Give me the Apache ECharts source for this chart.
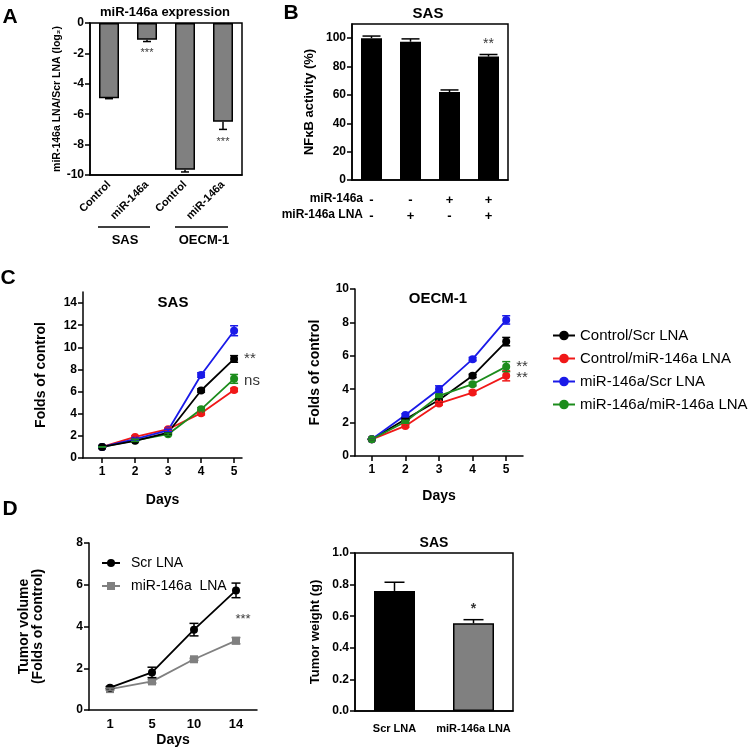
<!DOCTYPE html>
<html>
<head>
<meta charset="utf-8">
<script src="https://cdn.jsdelivr.net/npm/echarts@6/dist/echarts.min.js"></script>
<style>
  html, body { margin: 0; padding: 0; background: #fff; }
  #main { width: 755px; height: 753px; }
</style>
</head>
<body>
<div id="main"></div>
<script>
// ---- data ----
// panel A
var catsA = ['Control', 'miR-146a', 'Control', 'miR-146a'];
var valsA = [-4.95, -1.1, -9.65, -6.5];
var errA = [0.03, 0.12, 0.15, 0.5];
var starsA = [[1, -2, '***'], [3, -7.8, '***']];
var ticksA = [-10, -8, -6, -4, -2, 0];

// panel B
var rowMir = ['-', '-', '+', '+'];
var rowLna = ['-', '+', '-', '+'];
var valsB = [100, 97.5, 62, 87];
var errB = [1.5, 2, 1.5, 1.5];
var starsB = [[3, 95.5, '**']];
var ticksB = [0, 20, 40, 60, 80, 100];

// panel C
var days = [1, 2, 3, 4, 5];
var seriesNames = ['Control/Scr LNA', 'Control/miR-146a LNA', 'miR-146a/Scr LNA', 'miR-146a/miR-146a LNA'];
var colors = ['#000000', '#f01818', '#1a1ae8', '#1c8c1c'];
var sasCtrlScr = [1.0, 1.55, 2.3, 6.1, 8.95];
var sasCtrlLna = [1.0, 1.9, 2.6, 4.05, 6.15];
var sasMirScr = [1.0, 1.7, 2.5, 7.5, 11.5];
var sasMirLna = [1.0, 1.6, 2.15, 4.4, 7.15];
var sasErrCtrlScr = [0, 0.05, 0.1, 0.15, 0.3];
var sasErrCtrlLna = [0, 0.1, 0.1, 0.15, 0.15];
var sasErrMirScr = [0, 0.1, 0.1, 0.2, 0.45];
var sasErrMirLna = [0, 0.1, 0.1, 0.15, 0.4];
var oecmCtrlScr = [1.0, 2.2, 3.35, 4.8, 6.85];
var oecmCtrlLna = [1.0, 1.8, 3.15, 3.8, 4.8];
var oecmMirScr = [1.0, 2.45, 4.0, 5.8, 8.15];
var oecmMirLna = [1.0, 2.05, 3.6, 4.3, 5.35];
var oecmErrCtrlScr = [0, 0.05, 0.1, 0.1, 0.25];
var oecmErrCtrlLna = [0, 0.08, 0.1, 0.1, 0.3];
var oecmErrMirScr = [0, 0.08, 0.2, 0.1, 0.25];
var oecmErrMirLna = [0, 0.08, 0.1, 0.1, 0.3];
var starsSas = [[5, 9, '**'], [5, 7, 'ns']];
var starsOecm = [[5, 5.35, '**'], [5, 4.65, '**']];
var ticksSas = [0, 2, 4, 6, 8, 10, 12, 14];
var ticksOecm = [0, 2, 4, 6, 8, 10];

// panel D
var daysD = ['1', '5', '10', '14'];
var volScr = [1.07, 1.8, 3.85, 5.73];
var volMir = [1.0, 1.37, 2.43, 3.32];
var errVolScr = [0.05, 0.25, 0.3, 0.35];
var errVolMir = [0.05, 0.08, 0.05, 0.15];
var starsVol = [[3, 4.35, '***']];
var catsW = ['Scr LNA', 'miR-146a LNA'];
var valsW = [0.76, 0.555];
var errW = [0.055, 0.023];
var starsW = [[1, 0.645, '*']];
var ticksW = [0, 0.2, 0.4, 0.6, 0.8, 1.0];

var font = 'Liberation Sans, Arial, sans-serif';

// error bar drawer, mode: both / up / down
function errRender(capW, mode) {
    return function (params, api) {
        var x = api.value(0), y = api.value(1), e = api.value(2);
        var lo = y - e, hi = y + e;
        if (mode === 'up') lo = y;
        if (mode === 'down') hi = y;
        var p1 = api.coord([x, lo]);
        var p2 = api.coord([x, hi]);
        var st = { stroke: api.visual('color'), lineWidth: 1.5 };
        var kids = [{ type: 'line', shape: { x1: p1[0], y1: p1[1], x2: p2[0], y2: p2[1] }, style: st }];
        if (mode !== 'up') kids.push({ type: 'line', shape: { x1: p1[0] - capW / 2, y1: p1[1], x2: p1[0] + capW / 2, y2: p1[1] }, style: st });
        if (mode !== 'down') kids.push({ type: 'line', shape: { x1: p2[0] - capW / 2, y1: p2[1], x2: p2[0] + capW / 2, y2: p2[1] }, style: st });
        return { type: 'group', children: kids };
    };
}

function errSeries(idx, xs, vals, errs, color, capW, mode) {
    return {
        type: 'custom',
        xAxisIndex: idx, yAxisIndex: idx,
        renderItem: errRender(capW, mode),
        itemStyle: { color: color },
        encode: { x: 0, y: 1 },
        data: vals.map(function (v, i) { return [xs[i], v, errs[i]]; }),
        z: 5, silent: true
    };
}

function starSeries(idx, list, size, pos, dist, bold, offset) {
    return {
        type: 'scatter',
        xAxisIndex: idx, yAxisIndex: idx,
        symbolSize: 0, clip: false, silent: true,
        data: list,
        label: {
            show: true, position: pos, distance: dist, offset: offset || [0, 0],
            formatter: function (p) { return p.value[2]; },
            fontFamily: font, fontSize: size, fontWeight: bold ? 'bold' : 'normal', color: '#000'
        },
        z: 6
    };
}

function lineSeries(idx, name, vals, color, symbol) {
    return {
        type: 'line', name: name,
        xAxisIndex: idx, yAxisIndex: idx,
        data: vals.map(function (v, i) { return [days[i], v]; }),
        symbol: symbol || 'circle', symbolSize: 8,
        lineStyle: { color: color, width: 1.8 },
        itemStyle: { color: color },
        z: 3
    };
}

var axisLine = { lineStyle: { color: '#000', width: 1.5 } };
var axisTick = { length: 5, lineStyle: { color: '#000', width: 1.5 } };
var tickLbl = { color: '#000', fontFamily: font, fontWeight: 'bold', fontSize: 12 };
var nameStyle = { color: '#000', fontFamily: font, fontWeight: 'bold', fontSize: 14 };
var frame = { show: true, borderColor: '#000', borderWidth: 1.5, backgroundColor: 'transparent' };

function valAxis(idx, min, max, ticks, name, gap, nameSize, fmt) {
    return {
        type: 'value', gridIndex: idx, min: min, max: max,
        splitLine: { show: false },
        axisLine: { show: true, lineStyle: axisLine.lineStyle },
        axisTick: { show: true, length: 5, lineStyle: axisTick.lineStyle, customValues: ticks },
        axisLabel: Object.assign({ customValues: ticks, margin: 6, formatter: fmt }, tickLbl),
        name: name, nameLocation: 'middle', nameGap: gap,
        nameTextStyle: Object.assign({}, nameStyle, { fontSize: nameSize })
    };
}

var chart = echarts.init(document.getElementById('main'));

var option = {
    animation: false,
    textStyle: { fontFamily: font },
    grid: [
        Object.assign({ left: 90, top: 23, width: 152, height: 152 }, frame),
        Object.assign({ left: 352, top: 24, width: 156, height: 156 }, frame),
        { left: 83, top: 292, width: 159, height: 166 },
        { left: 355, top: 289, width: 168, height: 167 },
        { left: 89, top: 543, width: 168, height: 167 },
        Object.assign({ left: 355, top: 553, width: 158, height: 158 }, frame)
    ],
    xAxis: [
        {
            type: 'category', gridIndex: 0, data: catsA,
            axisLine: { onZero: false, lineStyle: axisLine.lineStyle },
            axisTick: { alignWithLabel: true, length: 5, lineStyle: axisTick.lineStyle },
            axisLabel: Object.assign({}, tickLbl, { rotate: 45, fontSize: 11, margin: 8, interval: 0 })
        },
        {
            type: 'category', gridIndex: 1, data: [0, 1, 2, 3],
            axisLine: { onZero: false, lineStyle: axisLine.lineStyle },
            axisTick: { alignWithLabel: true, length: 5, lineStyle: axisTick.lineStyle },
            axisLabel: Object.assign({}, tickLbl, {
                margin: 12, lineHeight: 16, fontSize: 13, interval: 0,
                formatter: function (v, i) { return rowMir[i] + '\n' + rowLna[i]; }
            })
        },
        {
            type: 'value', gridIndex: 2, min: 0.42, max: 5.24,
            splitLine: { show: false },
            axisLine: { onZero: false, lineStyle: axisLine.lineStyle },
            axisTick: { length: 5, lineStyle: axisTick.lineStyle, customValues: days },
            axisLabel: Object.assign({ customValues: days, margin: 8 }, tickLbl),
            name: 'Days', nameLocation: 'middle', nameGap: 35, nameTextStyle: nameStyle
        },
        {
            type: 'value', gridIndex: 3, min: 0.5, max: 5.5,
            splitLine: { show: false },
            axisLine: { onZero: false, lineStyle: axisLine.lineStyle },
            axisTick: { length: 5, lineStyle: axisTick.lineStyle, customValues: days },
            axisLabel: Object.assign({ customValues: days, margin: 8 }, tickLbl),
            name: 'Days', nameLocation: 'middle', nameGap: 33, nameTextStyle: nameStyle
        },
        {
            type: 'category', gridIndex: 4, data: daysD,
            axisLine: { onZero: false, lineStyle: axisLine.lineStyle },
            axisTick: { alignWithLabel: true, length: 5, lineStyle: axisTick.lineStyle },
            axisLabel: Object.assign({}, tickLbl, { margin: 8, fontSize: 13, interval: 0 }),
            name: 'Days', nameLocation: 'middle', nameGap: 23, nameTextStyle: nameStyle
        },
        {
            type: 'category', gridIndex: 5, data: catsW,
            axisLine: { onZero: false, lineStyle: axisLine.lineStyle },
            axisTick: { alignWithLabel: true, length: 5, lineStyle: axisTick.lineStyle },
            axisLabel: Object.assign({}, tickLbl, { margin: 12, fontSize: 11, interval: 0 })
        }
    ],
    yAxis: [
        valAxis(0, -10, 0, ticksA, 'miR-146a LNA/Scr LNA (log₂)', 25, 10.5),
        valAxis(1, 0, 110, ticksB, 'NFκB activity (%)', 36, 13),
        valAxis(2, 0, 15, ticksSas, 'Folds of control', 35, 14),
        valAxis(3, 0, 10, ticksOecm, 'Folds of control', 33, 14),
        valAxis(4, 0, 8, [0, 2, 4, 6, 8], 'Tumor volume\n(Folds of control)', 44, 14),
        valAxis(5, 0, 1, ticksW, 'Tumor weight (g)', 33, 13, function (v) { return v.toFixed(1); })
    ],
    legend: [
        {
            data: seriesNames, orient: 'vertical', left: 547, top: 323,
            itemWidth: 22, itemHeight: 12, itemGap: 8,
            textStyle: { fontFamily: font, fontSize: 15, color: '#000' }
        },
        {
            data: ['Scr LNA', 'miR-146a  LNA'], orient: 'vertical', left: 96, top: 551,
            itemWidth: 18, itemHeight: 10, itemGap: 9,
            textStyle: { fontFamily: font, fontSize: 14, color: '#000', padding: [0, 0, 0, 6] }
        }
    ],
    series: [
        // A
        {
            type: 'bar', xAxisIndex: 0, yAxisIndex: 0, data: valsA, barWidth: 20,
            itemStyle: { color: '#808080', borderColor: '#000', borderWidth: 1.5 }
        },
        errSeries(0, [0, 1, 2, 3], valsA, errA, '#000', 8, 'down'),
        starSeries(0, starsA, 11, 'inside', 0, false),
        // B
        {
            type: 'bar', xAxisIndex: 1, yAxisIndex: 1, data: valsB, barWidth: 21,
            itemStyle: { color: '#000' }
        },
        errSeries(1, [0, 1, 2, 3], valsB, errB, '#000', 18, 'up'),
        starSeries(1, starsB, 14, 'inside', 0, false),
        // C SAS
        lineSeries(2, seriesNames[1], sasCtrlLna, colors[1]),
        lineSeries(2, seriesNames[3], sasMirLna, colors[3]),
        lineSeries(2, seriesNames[2], sasMirScr, colors[2]),
        lineSeries(2, seriesNames[0], sasCtrlScr, colors[0]),
        errSeries(2, days, sasCtrlScr, sasErrCtrlScr, colors[0], 8, 'both'),
        errSeries(2, days, sasCtrlLna, sasErrCtrlLna, colors[1], 8, 'both'),
        errSeries(2, days, sasMirScr, sasErrMirScr, colors[2], 8, 'both'),
        errSeries(2, days, sasMirLna, sasErrMirLna, colors[3], 8, 'both'),
        starSeries(2, starsSas, 15, 'right', 10, false),
        // C OECM-1
        lineSeries(3, seriesNames[0], oecmCtrlScr, colors[0]),
        lineSeries(3, seriesNames[1], oecmCtrlLna, colors[1]),
        lineSeries(3, seriesNames[2], oecmMirScr, colors[2]),
        lineSeries(3, seriesNames[3], oecmMirLna, colors[3]),
        errSeries(3, days, oecmCtrlScr, oecmErrCtrlScr, colors[0], 8, 'both'),
        errSeries(3, days, oecmCtrlLna, oecmErrCtrlLna, colors[1], 8, 'both'),
        errSeries(3, days, oecmMirScr, oecmErrMirScr, colors[2], 8, 'both'),
        errSeries(3, days, oecmMirLna, oecmErrMirLna, colors[3], 8, 'both'),
        starSeries(3, starsOecm, 15, 'right', 10, false),
        // D volume
        {
            type: 'line', name: 'Scr LNA', xAxisIndex: 4, yAxisIndex: 4, data: volScr,
            symbol: 'circle', symbolSize: 8, z: 4,
            lineStyle: { color: '#000', width: 1.8 }, itemStyle: { color: '#000' }
        },
        {
            type: 'line', name: 'miR-146a  LNA', xAxisIndex: 4, yAxisIndex: 4, data: volMir,
            symbol: 'rect', symbolSize: 8, z: 3,
            lineStyle: { color: '#808080', width: 1.8 }, itemStyle: { color: '#808080' }
        },
        errSeries(4, [0, 1, 2, 3], volScr, errVolScr, '#000', 9, 'both'),
        errSeries(4, [0, 1, 2, 3], volMir, errVolMir, '#808080', 9, 'both'),
        starSeries(4, starsVol, 13, 'inside', 0, false, [7, 0]),
        // D weight
        {
            type: 'bar', xAxisIndex: 5, yAxisIndex: 5, barWidth: 41,
            data: [
                { value: valsW[0], itemStyle: { color: '#000' } },
                { value: valsW[1], itemStyle: { color: '#808080' } }
            ],
            itemStyle: { borderColor: '#000', borderWidth: 1.5 }
        },
        errSeries(5, [0, 1], valsW, errW, '#000', 20, 'up'),
        starSeries(5, starsW, 14, 'inside', 0, true)
    ],
    graphic: [
        { type: 'text', style: { text: 'A', x: 10, y: 17, textAlign: 'center', textVerticalAlign: 'middle', font: 'bold 21px Liberation Sans, Arial' } },
        { type: 'text', style: { text: 'B', x: 291, y: 13, textAlign: 'center', textVerticalAlign: 'middle', font: 'bold 21px Liberation Sans, Arial' } },
        { type: 'text', style: { text: 'C', x: 8, y: 278, textAlign: 'center', textVerticalAlign: 'middle', font: 'bold 21px Liberation Sans, Arial' } },
        { type: 'text', style: { text: 'D', x: 10, y: 509, textAlign: 'center', textVerticalAlign: 'middle', font: 'bold 21px Liberation Sans, Arial' } },
        { type: 'text', style: { text: 'miR-146a expression', x: 165, y: 12, textAlign: 'center', textVerticalAlign: 'middle', font: 'bold 13px Liberation Sans, Arial' } },
        { type: 'text', style: { text: 'SAS', x: 428, y: 14, textAlign: 'center', textVerticalAlign: 'middle', font: 'bold 15px Liberation Sans, Arial' } },
        { type: 'text', style: { text: 'SAS', x: 173, y: 303, textAlign: 'center', textVerticalAlign: 'middle', font: 'bold 15px Liberation Sans, Arial' } },
        { type: 'text', style: { text: 'OECM-1', x: 438, y: 299, textAlign: 'center', textVerticalAlign: 'middle', font: 'bold 15px Liberation Sans, Arial' } },
        { type: 'text', style: { text: 'SAS', x: 434, y: 543, textAlign: 'center', textVerticalAlign: 'middle', font: 'bold 14px Liberation Sans, Arial' } },
        { type: 'line', shape: { x1: 98, y1: 227, x2: 150, y2: 227 }, style: { stroke: '#000', lineWidth: 1.5 } },
        { type: 'line', shape: { x1: 175, y1: 227, x2: 228, y2: 227 }, style: { stroke: '#000', lineWidth: 1.5 } },
        { type: 'text', style: { text: 'SAS', x: 125, y: 240, textAlign: 'center', textVerticalAlign: 'middle', font: 'bold 13px Liberation Sans, Arial' } },
        { type: 'text', style: { text: 'OECM-1', x: 204, y: 240, textAlign: 'center', textVerticalAlign: 'middle', font: 'bold 13px Liberation Sans, Arial' } },
        { type: 'text', style: { text: 'miR-146a', x: 363, y: 199, textAlign: 'right', textVerticalAlign: 'middle', font: 'bold 12px Liberation Sans, Arial' } },
        { type: 'text', style: { text: 'miR-146a LNA', x: 363, y: 215, textAlign: 'right', textVerticalAlign: 'middle', font: 'bold 12px Liberation Sans, Arial' } }
    ]
};

chart.setOption(option);
</script>
</body>
</html>
